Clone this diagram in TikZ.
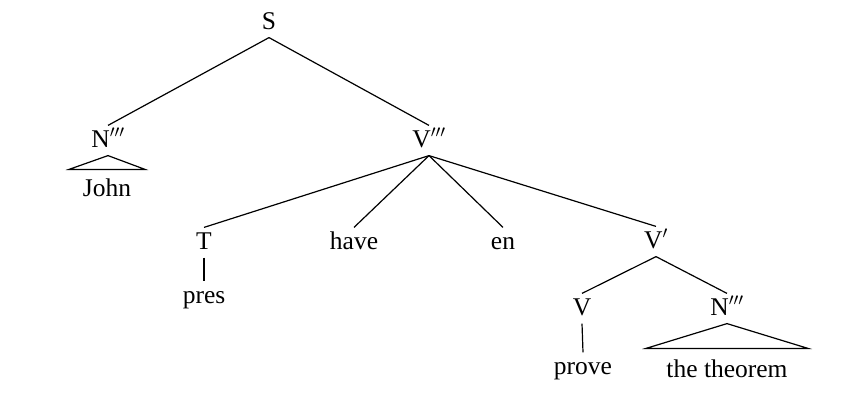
\documentclass[tikz,border=0pt]{standalone}
\usepackage{fontspec}
\setmainfont{Liberation Serif}
\begin{document}
\begin{tikzpicture}[x=1pt, y=-1pt, line width=1.2pt,
    every node/.style={font=\fontsize{25.5}{30}\selectfont, anchor=base,
      text height=17pt, text depth=4pt, inner xsep=2pt, inner ysep=4pt}]
  \useasboundingbox (0,0) rectangle (864,407);

  % Root and first split
  \node (s) at (269,29) {S};
  \node (nA) at (108,147) {N$'''$};
  \node (vA) at (429,147) {V$'''$};
  \draw (s.south) -- (nA.north);
  \draw (s.south) -- (vA.north);

  % Subject: roof over John
  \node (john) at (107,196) {John};
  \draw (nA.south) -- ([xshift=-38pt,yshift=5pt]john.north)
    -- ([xshift=38pt,yshift=5pt]john.north) -- cycle;

  % Daughters of V'''
  \node (t) at (204,249) {T};
  \node (have) at (354,249) {have};
  \node (en) at (503,249) {en};
  \node (vB) at (656,248) {V$'$};
  \foreach \d in {t, have, en, vB} {
    \draw (vA.south) -- (\d.north);
  }

  \node (pres) at (204,303) {pres};
  \draw (t.south) -- (pres.north);

  % V' splits into V and the object
  \node (v) at (582,315) {V};
  \node (nB) at (727,315) {N$'''$};
  \draw (vB.south) -- (v.north);
  \draw (vB.south) -- (nB.north);

  \node (prove) at (583,374) {prove};
  \draw (v.south) -- (prove.north);

  % Object: roof over the theorem
  \node (thm) at (727,377) {the theorem};
  \draw (nB.south) -- ([xshift=-81pt,yshift=7pt]thm.north)
    -- ([xshift=81pt,yshift=7pt]thm.north) -- cycle;
\end{tikzpicture}
\end{document}
